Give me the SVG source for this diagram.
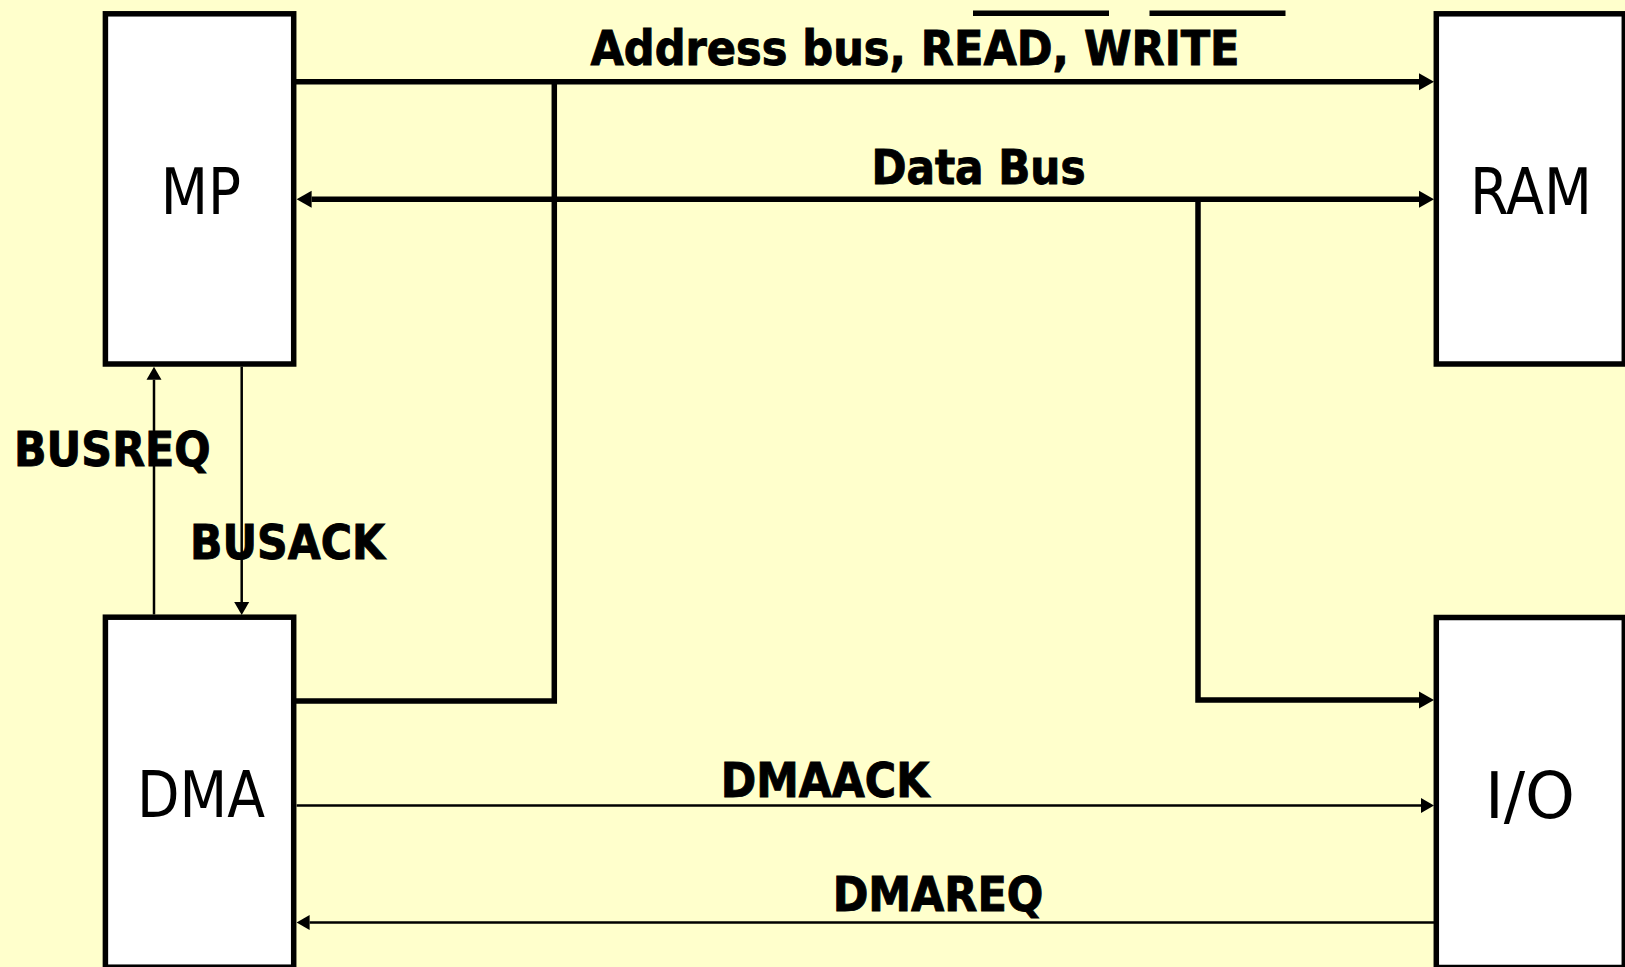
<svg xmlns="http://www.w3.org/2000/svg" width="1625" height="967" viewBox="0 0 1625 967">
  <style>
    .box { fill: #ffffff; stroke: #000000; stroke-width: 5.5; }
    .name { font-family: "DejaVu Sans Condensed", "DejaVu Sans", sans-serif; font-size: 64px; fill: #000000; text-anchor: middle; }
    .label { font-family: "DejaVu Sans Condensed", "DejaVu Sans", sans-serif; font-weight: bold; font-size: 48px; fill: #000000; stroke: #000000; stroke-width: 0.9; }
    .bus { fill: none; stroke: #000000; stroke-width: 5.5; }
    .sig { fill: none; stroke: #000000; stroke-width: 2.5; }
    .bar { stroke: #000000; stroke-width: 5.5; }
  </style>
  <defs>
    <!-- arrowheads start at the line end and extend forward to the tip -->
    <marker id="headBus" markerUnits="userSpaceOnUse" markerWidth="16" markerHeight="18" refX="0" refY="8.5" orient="auto-start-reverse" overflow="visible">
      <path d="M0,0 L15,8.5 L0,17 Z" fill="#000000"/>
    </marker>
    <marker id="headSig" markerUnits="userSpaceOnUse" markerWidth="14" markerHeight="16" refX="0" refY="7.5" orient="auto-start-reverse" overflow="visible">
      <path d="M0,0 L13,7.5 L0,15 Z" fill="#000000"/>
    </marker>
  </defs>

  <rect x="0" y="0" width="1625" height="967" fill="#ffffcc"/>

  <g id="connectors">
    <!-- address bus with READ / WRITE strobes -->
    <line class="bus" x1="293.7" y1="81.7" x2="1419" y2="81.7" marker-end="url(#headBus)"/>
    <polyline class="bus" points="554.3,81.7 554.3,701 293.7,701" stroke-linejoin="miter"/>
    <!-- bidirectional data bus, branching down to I/O -->
    <line class="bus" x1="311.6" y1="199.3" x2="1419" y2="199.3" marker-start="url(#headBus)" marker-end="url(#headBus)"/>
    <polyline class="bus" points="1198,199.3 1198,700 1419,700" marker-end="url(#headBus)"/>
    <!-- bus arbitration between DMA and MP -->
    <line class="sig" x1="154" y1="614.5" x2="154" y2="379.7" marker-end="url(#headSig)"/>
    <line class="sig" x1="241.7" y1="366.7" x2="241.7" y2="602" marker-end="url(#headSig)"/>
    <!-- DMA handshake with I/O -->
    <line class="sig" x1="296.6" y1="805.5" x2="1421" y2="805.5" marker-end="url(#headSig)"/>
    <line class="sig" x1="1434" y1="922.5" x2="309.6" y2="922.5" marker-end="url(#headSig)"/>

    <g id="bus-labels">
      <text class="label" x="590.5" y="65" textLength="649" lengthAdjust="spacingAndGlyphs">Address bus, READ, WRITE</text>
      <line class="bar" x1="973" y1="13.3" x2="1109" y2="13.3"/>
      <line class="bar" x1="1149.5" y1="13.3" x2="1285.5" y2="13.3"/>
      <text class="label" x="871.5" y="184" textLength="214" lengthAdjust="spacingAndGlyphs">Data Bus</text>
      <text class="label" x="14" y="465.7" textLength="196.7" lengthAdjust="spacingAndGlyphs">BUSREQ</text>
      <text class="label" x="190" y="558.5" textLength="195" lengthAdjust="spacingAndGlyphs">BUSACK</text>
      <text class="label" x="720.7" y="796.7" textLength="208.6" lengthAdjust="spacingAndGlyphs">DMAACK</text>
      <text class="label" x="832.7" y="910.7" textLength="210.6" lengthAdjust="spacingAndGlyphs">DMAREQ</text>
    </g>
  </g>

  <g id="mp">
    <rect class="box" x="105.4" y="13.8" width="188.3" height="350.2"/>
    <text class="name" x="200.9" y="214.3" textLength="80.3" lengthAdjust="spacingAndGlyphs">MP</text>
  </g>

  <g id="ram">
    <rect class="box" x="1436.3" y="13.8" width="188" height="350.2"/>
    <text class="name" x="1531" y="214.3" textLength="122" lengthAdjust="spacingAndGlyphs">RAM</text>
  </g>

  <g id="dma">
    <rect class="box" x="105.4" y="617.2" width="188.3" height="350"/>
    <text class="name" x="201" y="817.3" textLength="128" lengthAdjust="spacingAndGlyphs">DMA</text>
  </g>

  <g id="io">
    <rect class="box" x="1436.3" y="617.5" width="188" height="350"/>
    <text class="name" x="1530" y="818.3" textLength="90" lengthAdjust="spacingAndGlyphs">I/O</text>
  </g>
</svg>
